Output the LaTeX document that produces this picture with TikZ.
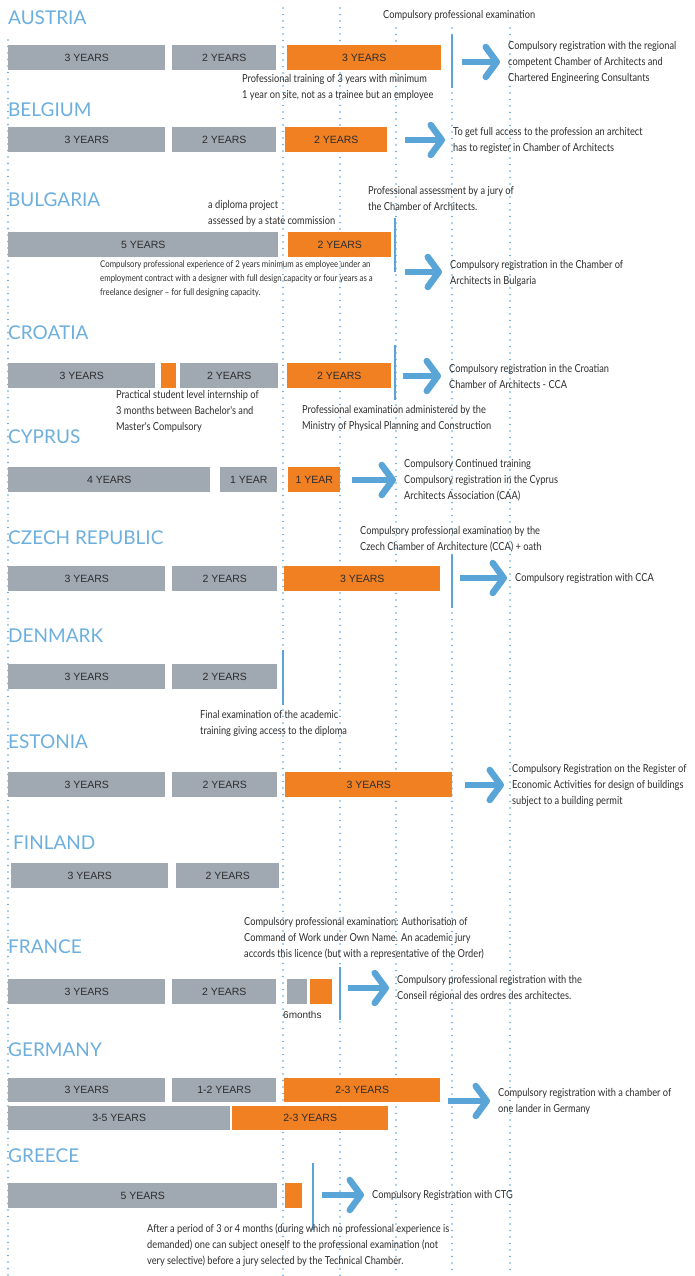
\documentclass[tikz,border=0pt]{standalone}
\usepackage{fontspec}
\setmainfont{Liberation Sans}
\newfontfamily\notefont[FakeStretch=0.84]{Lato}
\newfontfamily\titlefont{Lato}
\usetikzlibrary{arrows.meta}
\definecolor{gbar}{RGB}{160,168,178}
\definecolor{obar}{RGB}{240,128,34}
\definecolor{lblue}{RGB}{90,165,215}
\definecolor{tblue}{RGB}{108,175,222}
\definecolor{ntext}{RGB}{45,45,45}
\tikzset{
  gb/.style={fill=gbar, draw=none, anchor=north west, minimum height=25pt, inner sep=0pt,
     font=\fontsize{10.5}{12}\selectfont, text=ntext},
  ob/.style={gb, fill=obar},
  ttl/.style={anchor=west, font=\titlefont\fontsize{19}{19}\selectfont, text=tblue, inner sep=0pt},
  note/.style={anchor=west, align=left, font=\notefont\fontsize{11}{16}\selectfont, text=ntext, inner sep=0pt},
  smallnote/.style={note, font=\notefont\fontsize{9.3}{14}\selectfont},
  vbar/.style={draw=lblue, line width=2.5pt},
  bigarrow/.style={draw=lblue, line width=6.5pt, -{Straight Barb[length=11pt,width=30pt,round]}, shorten >=8pt},
  dots/.style={draw=lblue, line width=1.6pt, line cap=round, dash pattern=on 0pt off 6.5pt}
}
\begin{document}
\begin{tikzpicture}[x=1pt,y=-1pt]
\useasboundingbox (0,0) rectangle (694,1276);
% dotted grid
\draw[dots] (8,40) -- (8,1276);
\draw[dots] (283,8) -- (283,1276);
\draw[dots] (340,8) -- (340,1276);
\draw[dots] (396,28) -- (396,1276);
\draw[dots] (452,28) -- (452,1276);
\draw[dots] (510,28) -- (510,1276);

% AUSTRIA
\node[ttl] (tAT) at (8,18) {AUSTRIA};
\node[gb, minimum width=157pt] (at1) at (8,45) {3 YEARS};
\node[gb, minimum width=104pt] (at2) at (172,45) {2 YEARS};
\node[ob, minimum width=154pt] (at3) at (287,45) {3 YEARS};
\draw[vbar] (452,35) -- (452,88);
\node[note] (atexam) at (383,15) {Compulsory professional examination};
\node[note] (attrain) at (242,87.5) {Professional training of 3 years with minimum\\1 year on site, not as a trainee but an employee};
\coordinate (atA) at (462,62);
\node[note] (atreg) at (508,62) {Compulsory registration with the regional\\competent Chamber of Architects and\\Chartered Engineering Consultants};
\draw[bigarrow] (atA) -- (atA -| atreg.west);

% BELGIUM
\node[ttl] (tBE) at (8,110) {BELGIUM};
\node[gb, minimum width=157pt] (be1) at (8,127) {3 YEARS};
\node[gb, minimum width=104pt] (be2) at (172,127) {2 YEARS};
\node[ob, minimum width=102pt] (be3) at (285,127) {2 YEARS};
\coordinate (beA) at (405,140);
\node[note] (bereg) at (453,140) {To get full access to the profession an architect\\has to register in Chamber of Architects};
\draw[bigarrow] (beA) -- (beA -| bereg.west);

% BULGARIA
\node[ttl] (tBG) at (8,200) {BULGARIA};
\node[note] (bgdip) at (208,213) {a diploma project\\assessed by a state commission};
\node[note] (bgjury) at (368,198) {Professional assessment by a jury of\\the Chamber of Architects.};
\node[gb, minimum width=270pt] (bg1) at (8,232) {5 YEARS};
\node[ob, minimum width=103pt] (bg2) at (288,232) {2 YEARS};
\draw[vbar] (395,218) -- (395,272);
\node[smallnote] (bgexp) at (100,279) {Compulsory professional experience of 2 years minimum as employee under an\\employment contract with a designer with full design capacity or four years as a\\freelance designer – for full designing capacity.};
\coordinate (bgA) at (405,272);
\node[note] (bgreg) at (450,273) {Compulsory registration in the Chamber of\\Architects in Bulgaria};
\draw[bigarrow] (bgA) -- (bgA -| bgreg.west);

% CROATIA
\node[ttl] (tHR) at (8,333) {CROATIA};
\node[gb, minimum width=147pt] (hr1) at (8,363) {3 YEARS};
\node[ob, minimum width=15pt] (hr2) at (161,363) {};
\node[gb, minimum width=98pt] (hr3) at (180,363) {2 YEARS};
\node[ob, minimum width=104pt] (hr4) at (287,363) {2 YEARS};
\draw[vbar] (395,345) -- (395,400);
\coordinate (hrA) at (403,376);
\node[note] (hrreg) at (449,376) {Compulsory registration in the Croatian\\Chamber of Architects - CCA};
\draw[bigarrow] (hrA) -- (hrA -| hrreg.west);
\node[note] (hrint) at (116,411) {Practical student level internship of\\3 months between Bachelor's and\\Master's Compulsory};
\node[note] (hrexam) at (302,418) {Professional examination administered by the\\Ministry of Physical Planning and Construction};

% CYPRUS
\node[ttl] (tCY) at (8,437) {CYPRUS};
\node[gb, minimum width=202pt] (cy1) at (8,467) {4 YEARS};
\node[gb, minimum width=57pt] (cy2) at (220,467) {1 YEAR};
\node[ob, minimum width=52pt] (cy3) at (288,467) {1 YEAR};
\coordinate (cyA) at (352,480);
\node[note] (cyreg) at (404,480) {Compulsory Continued training\\Compulsory registration in the Cyprus\\Architects Association (CAA)};
\draw[bigarrow] (cyA) -- (cyA -| cyreg.west);

% CZECH REPUBLIC
\node[ttl] (tCZ) at (8,538) {CZECH REPUBLIC};
\node[note] (czexam) at (360,539) {Compulsory professional examination by the\\Czech Chamber of Architecture (CCA) + oath};
\node[gb, minimum width=157pt] (cz1) at (8,566) {3 YEARS};
\node[gb, minimum width=105pt] (cz2) at (172,566) {2 YEARS};
\node[ob, minimum width=156pt] (cz3) at (284,566) {3 YEARS};
\draw[vbar] (452,555) -- (452,608);
\coordinate (czA) at (460,578);
\node[note] (czreg) at (515,578) {Compulsory registration with CCA};
\draw[bigarrow] (czA) -- (czA -| czreg.west);

% DENMARK
\node[ttl] (tDK) at (8,636) {DENMARK};
\node[gb, minimum width=157pt] (dk1) at (8,664) {3 YEARS};
\node[gb, minimum width=105pt] (dk2) at (172,664) {2 YEARS};
\draw[vbar] (283,650) -- (283,705);
\node[note] (dkexam) at (200,723) {Final examination of the academic\\training giving access to the diploma};

% ESTONIA
\node[ttl] (tEE) at (8,742) {ESTONIA};
\node[gb, minimum width=157pt] (ee1) at (8,772) {3 YEARS};
\node[gb, minimum width=105pt] (ee2) at (172,772) {2 YEARS};
\node[ob, minimum width=167pt] (ee3) at (285,772) {3 YEARS};
\coordinate (eeA) at (465,785);
\node[note] (eereg) at (512,785) {Compulsory Registration on the Register of\\Economic Activities for design of buildings\\subject to a building permit};
\draw[bigarrow] (eeA) -- (eeA -| eereg.west);

% FINLAND
\node[ttl] (tFI) at (13,843) {FINLAND};
\node[gb, minimum width=157pt] (fi1) at (11,863) {3 YEARS};
\node[gb, minimum width=103pt] (fi2) at (176,863) {2 YEARS};

% FRANCE
\node[note] (frexam) at (244,938) {Compulsory professional examination: Authorisation of\\Command of Work under Own Name. An academic jury\\accords this licence (but with a representative of the Order)};
\node[ttl] (tFR) at (8,947) {FRANCE};
\node[gb, minimum width=157pt] (fr1) at (8,979) {3 YEARS};
\node[gb, minimum width=104pt] (fr2) at (172,979) {2 YEARS};
\node[gb, minimum width=20pt] (fr3) at (287,979) {};
\node[ob, minimum width=22pt] (fr4) at (310,979) {};
\node[anchor=west, inner sep=0pt, font=\fontsize{10}{12}\selectfont, text=ntext] (frsix) at (283,1015) {6months};
\draw[vbar] (340,967) -- (340,1020);
\coordinate (frA) at (348,988);
\node[note] (frreg) at (397,988) {Compulsory professional registration with the\\Conseil régional des ordres des architectes.};
\draw[bigarrow] (frA) -- (frA -| frreg.west);

% GERMANY
\node[ttl] (tDE) at (8,1050) {GERMANY};
\node[gb, minimum width=157pt, minimum height=24pt] (de1) at (8,1078) {3 YEARS};
\node[gb, minimum width=104pt, minimum height=24pt] (de2) at (172,1078) {1-2 YEARS};
\node[ob, minimum width=156pt, minimum height=24pt] (de3) at (284,1078) {2-3 YEARS};
\node[gb, minimum width=222pt, minimum height=24pt] (de4) at (8,1106) {3-5 YEARS};
\node[ob, minimum width=156pt, minimum height=24pt] (de5) at (232,1106) {2-3 YEARS};
\coordinate (deA) at (448,1101);
\node[note] (dereg) at (498,1101) {Compulsory registration with a chamber of\\one lander in Germany};
\draw[bigarrow] (deA) -- (deA -| dereg.west);

% GREECE
\node[ttl] (tGR) at (8,1156) {GREECE};
\node[gb, minimum width=269pt] (gr1) at (8,1183) {5 YEARS};
\node[ob, minimum width=17pt] (gr2) at (285,1183) {};
\draw[vbar] (313,1163) -- (313,1230);
\coordinate (grA) at (322,1195);
\node[note] (grreg) at (372,1195) {Compulsory Registration with CTG};
\draw[bigarrow] (grA) -- (grA -| grreg.west);
\node[note] (grexam) at (147,1245) {After a period of 3 or 4 months (during which no professional experience is\\demanded) one can subject oneself to the professional examination (not\\very selective) before a jury selected by the Technical Chamber.};
\end{tikzpicture}
\end{document}
